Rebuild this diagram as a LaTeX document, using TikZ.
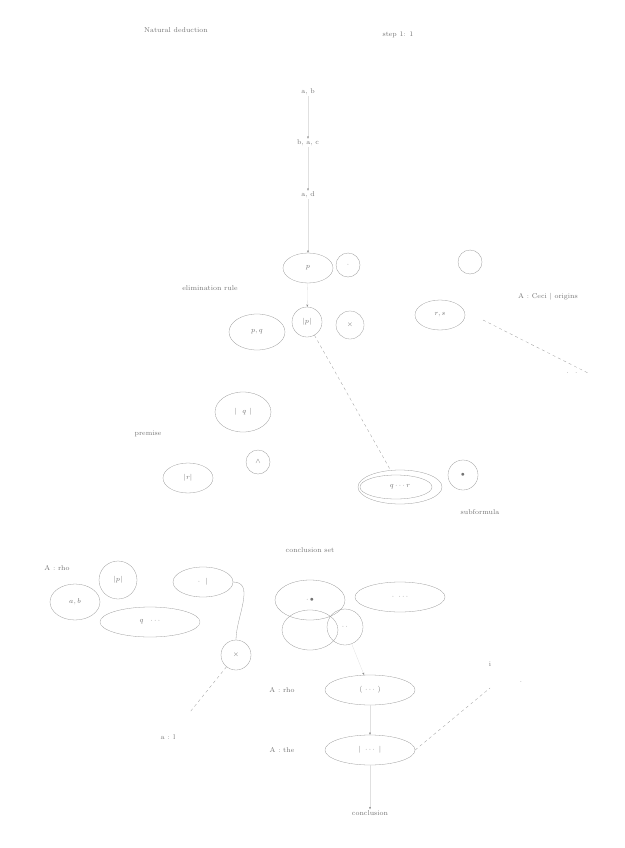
\documentclass[tikz,border=0pt]{standalone}
\usetikzlibrary{shapes.geometric,arrows.meta}
\begin{document}
\begin{tikzpicture}[x=1pt,y=-1pt,
  lbl/.style={font=\scriptsize,text=black!55,inner sep=1pt},
  ell/.style={ellipse,draw=black!40,line width=0.3pt,font=\scriptsize,text=black!55,inner sep=1pt},
  circ/.style={circle,draw=black!40,line width=0.3pt,font=\scriptsize,text=black!55,inner sep=1pt},
  dl/.style={draw=black!40,line width=0.3pt,dashed},
  arr/.style={draw=black!12,line width=0.3pt,-{Stealth[length=2.5pt,color=black!45]}}]
\useasboundingbox (0,0) rectangle (624,848);
% header
\node[lbl] (title) at (176,30) {Natural deduction};
\node[lbl] (step) at (398,35) {step 1: 1};
% column
\node[lbl] (c1) at (308,92) {a, b};
\node[lbl] (c2) at (308,143) {b, a, c};
\node[lbl] (c3) at (308,195) {a, d};
\draw[arr] (c1) -- (c2);
\draw[arr] (c2) -- (c3);
% upper group
\node[ell,minimum width=50,minimum height=30] (e1) at (308,268) {$p$};
\node[circ,minimum size=24] (e1b) at (348,265) {$\cdot$};
\draw[arr] (c3) -- (e1);
\node[lbl] (l1) at (210,288) {elimination rule};
\node[ell,minimum width=56,minimum height=36] (e2) at (257,332) {$p,q$};
\node[circ,minimum size=30] (e3) at (307,322) {$|p|$};
\node[circ,minimum size=28] (e4) at (350,325) {$\times$};
\draw[arr] (e1) -- (e3);
% right group
\node[circ,minimum size=24] (r1) at (470,262) {};
\node[ell,minimum width=50,minimum height=30] (r2) at (440,315) {$r,s$};
\node[lbl] (l2) at (548,297) {A : Ceci | origins};
\coordinate (rstart) at (483,320);
\coordinate (rend) at (590,374);
\draw[dl] (rstart) -- (rend);
\node[lbl] (l2b) at (572,373) {. \ .};
% dashed to lower right
\node[ell,minimum width=84,minimum height=34] (e7) at (400,487) {$q\cdots r$};
\node[ell,minimum width=72,minimum height=24] (e7i) at (396,487) {};
\node[circ,minimum size=30] (e8) at (463,475) {$\bullet$};
\node[lbl] (l4) at (480,512) {subformula};
\draw[dl] (e3) -- (e7);
% middle left
\node[ell,minimum width=56,minimum height=40] (e5) at (243,412) {$|\ \ q\ |$};
\node[lbl] (l3) at (148,434) {premise};
\node[circ,minimum size=24] (e6) at (258,462) {$\wedge$};
\node[ell,minimum width=50,minimum height=30] (e9) at (188,478) {$|r|$};
% section label
\node[lbl] (l5) at (310,550) {conclusion set};
% bottom-left cluster
\node[lbl] (l6) at (57,568) {A : rho};
\node[circ,minimum size=38] (b1) at (118,580) {$|p|$};
\node[ell,minimum width=50,minimum height=36] (b2) at (75,602) {$a,b$};
\node[ell,minimum width=60,minimum height=30] (b3) at (203,582) {$\cdot\ \ |$};
\node[ell,minimum width=100,minimum height=30] (b4) at (150,622) {$q\ \ \cdots$};
\node[circ,minimum size=30] (b5) at (236,655) {$\times$};
\draw[draw=black!40,line width=0.3pt] (b3.east) to[out=0,in=90] (b5.north);
\coordinate (bl) at (190,712);
\draw[dl] (b5) -- (bl);
\node[lbl] (l7) at (168,737) {a : l};
% middle cluster
\node[ell,minimum width=70,minimum height=40] (m1) at (310,600) {$\cdot\,\bullet$};
\node[ell,minimum width=90,minimum height=30] (m2) at (400,597) {$\cdot\ \cdots$};
\node[ell,minimum width=56,minimum height=40] (m3) at (310,630) {};
\node[circ,minimum size=36] (m4) at (345,627) {$\cdot\,\cdot$};
% lower chain
\node[ell,minimum width=90,minimum height=30] (n1) at (370,690) {$(\ \cdots\ )$};
\node[lbl] (l8) at (282,690) {A : rho};
\node[ell,minimum width=90,minimum height=30] (n2) at (370,750) {$|\ \cdots\ |$};
\node[lbl] (l9) at (282,750) {A : the};
\node[lbl] (n3) at (370,813) {conclusion};
\draw[arr] (m4) -- (n1);
\draw[arr] (n1) -- (n2);
\draw[arr] (n2) -- (n3);
\coordinate (tr) at (490,688);
\draw[dl] (n2.east) -- (tr);
\node[lbl] (l10) at (490,664) {i};
\node[lbl] (l11) at (521,682) {.};
\end{tikzpicture}
\end{document}
